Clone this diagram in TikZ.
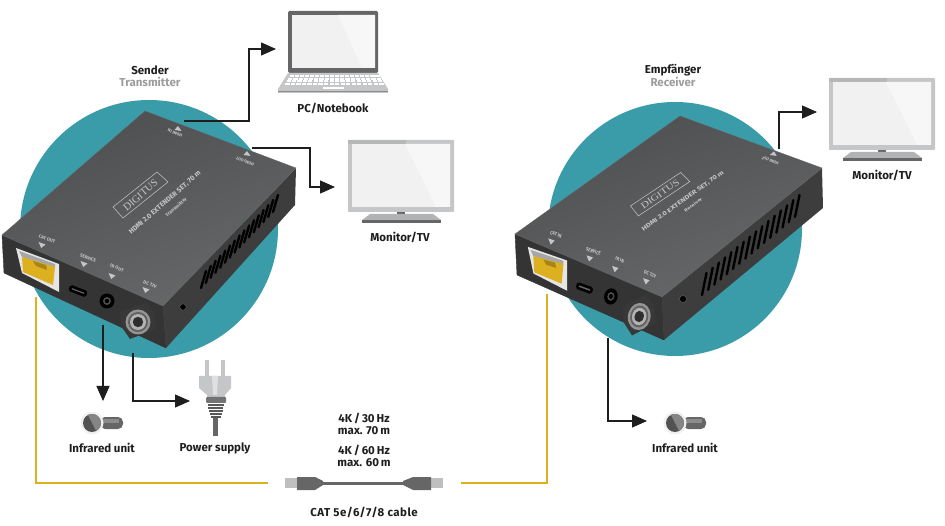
\documentclass[tikz,border=0pt]{standalone}
\usepackage{fontspec}
\setmainfont{Fira Sans}
\newfontfamily\logofont{Liberation Serif}
\usetikzlibrary{positioning,arrows.meta,calc}
\definecolor{teal}{HTML}{3A9BA9}
\definecolor{cableyellow}{HTML}{DDB020}
\definecolor{ink}{HTML}{1E1E1E}
\definecolor{softgrey}{HTML}{9C9C9C}
\definecolor{lidgrey}{HTML}{666666}
\definecolor{panelgrey}{HTML}{C4C6C7}
\definecolor{screenwhite}{HTML}{F1F1F1}
\definecolor{topface}{HTML}{525354}
\definecolor{frontface}{HTML}{343434}
\definecolor{silk}{HTML}{C6C6C6}
\tikzset{caption/.style={font=\bfseries\fontsize{11.5}{12}\selectfont,text=ink,inner sep=0pt},
         subcaption/.style={caption,text=softgrey},
         silkfront/.style={font=\bfseries\fontsize{4.6}{5}\selectfont,text=silk,inner sep=0pt,rotate=-21,transform shape},
         silktop/.style={font=\bfseries\fontsize{4.2}{5}\selectfont,text=silk,inner sep=0pt,rotate=159,transform shape},
         silkname/.style={font=\bfseries\fontsize{7}{8}\selectfont,text=silk,inner sep=0pt,rotate=41,transform shape},
         arr/.style={-{Stealth[length=15pt,width=13pt,inset=0pt]},ink,line width=1.1pt},
         yellowcable/.style={cableyellow,line width=2.4pt},
         slot/.style={black,line width=2.4pt,line cap=round}}

% case: left, back, right, front corner, front foot, right foot, left foot
\newcommand{\extenderbody}[7]{
 \path[fill=frontface,draw=frontface] #1 -- #4 -- #5 -- #7 -- cycle;
 \path[fill=black!76] #4 -- #3 -- #6 -- #5 -- cycle;
 \path[shade,left color=topface!95!black,right color=topface!88!white,shading angle=20,draw=black!60,line width=.3pt] #1 -- #2 -- #3 -- #4 -- cycle;
}
% vent slots: first foot, step, slot vector
\newcommand{\extenderslots}[6]{
 \foreach \i in {0,...,15}
   \draw[slot] ({#1+#3*\i},{#2+#4*\i}) -- ++(#5,#6);
}
% front panel: prefix, CAT label, IR label
\newcommand{\extenderfront}[3]{
 \fill[black!10] (16,248) -- (59,264) -- (59,292) -- (22,273) -- cycle;
 \fill[black!35] (19,251) -- (55,264) -- (55,268) -- (22,257) -- cycle;
 \fill[cableyellow] (22,257) -- (55,267) -- (53,285) -- (23,272) -- cycle;
 \fill[cableyellow!75!black] (33,261) -- (46,265) -- (47,270) -- (36,266) -- cycle;
 \draw[black,line width=2.6pt,rotate around={-21:(78,291)},rounded corners=1pt,fill=black!60] (70,289) rectangle (86,293);
 \fill[black] (107,301) circle (7.5);
 \fill[black!70] (107,301) circle (4);
 \fill[black] (107,301) circle (2.2);
 \fill[black!78,rotate around={20:(138,320)}] (124,306) -- (151,306) -- (156,320) -- (151,335) -- (124,335) -- (120,320) -- cycle;
 \fill[black!42] (138,322) circle (12.5);
 \fill[black!62] (138,322) circle (10);
 \fill[black!30] (138,322) circle (8);
 \fill[black!82] (138,322) circle (5.2);
 \node[silkfront] (#1cat) at (47,239) {#2};
 \node[silkfront] (#1svc) at (88,258) {SERVICE};
 \node[silkfront] (#1irl) at (117,268) {#3};
 \node[silkfront] (#1dcl) at (150,284) {DC 12V};
 \foreach \x/\y in {42/244,84/263,112/275,146/289}
   \fill[silk] ({\x-3.5},{\y-2}) -- ({\x+3.5},{\y+.5}) -- ({\x-.8},{\y+4}) -- cycle;
}
% top print: prefix, model line
\newcommand{\extendertop}[2]{
 \fill[silk] (250.5,156) -- (243.5,155) -- (247,151) -- cycle;
 \node[silktop] (#1out) at (245,161) {HDMI OUT};
 \draw[silk,line width=.5pt] (113,207) -- (157,172) -- (168,182) -- (123,218) -- cycle;
 \node[silkname,font=\logofont\fontsize{10.5}{11}\selectfont] (#1logo) at (140.5,195) {DIGITUS};
 \node[silkname] (#1title) at (165,203) {HDMI 2.0 EXTENDER SET, 70 m};
 \node[silkname,font=\bfseries\fontsize{5}{6}\selectfont] (#1model) at (176,207) {#2};
}

% monitor icon
\newcommand{\monitoricon}{
 \fill[panelgrey,rounded corners=.8pt] (348,140) rectangle (454,212);
 \fill[panelgrey!85!lidgrey] (348,140) rectangle (406,144);
 \fill[screenwhite] (352,144) rectangle (450,207);
 \fill[white!40!screenwhite] (405,144) -- (450,144) -- (450,207) -- (436,207) -- cycle;
 \fill[lidgrey] (397,212) rectangle (405,217);
 \fill[panelgrey!80!lidgrey] (362,220) -- (370,214) -- (433,214) -- (441,220) -- cycle;
 \fill[lidgrey] (362,220) rectangle (441,223);
}

% infrared receiver icon
\newcommand{\irunit}{
 \fill[black!60,rounded corners=5pt] (100,417) rectangle (123,429);
 \fill[black!45] (100,418.5) rectangle (119,422.5);
 \fill[black!6] (92,423) circle (11.5);
 \fill[black!68] (92,423) circle (9);
 \fill[black!48] (88,414.9) -- (96,431) arc (-63:116:9pt) -- cycle;
}

\begin{document}
\begin{tikzpicture}[x=1pt,y=-1pt]
 \useasboundingbox (0,0) rectangle (945,526);
 \coordinate (txc) at (149,229);
 \coordinate (rxc) at (675,229);
 \fill[teal] (txc) circle (129);
 \fill[teal] (rxc) circle (127);

 % sender
 \extenderbody{(2,235)}{(145,111)}{(296,168)}{(163,306)}{(166,348)}{(295,205)}{(4,273)}
 \extenderslots{201}{288}{4.8}{-5.07}{5}{-17}
 \extenderfront{tx}{CAT OUT}{IR OUT}
 \draw[black!60,fill=black] (183,307) circle (3.2);
 \extendertop{tx}{Transmitter}
 \node[silktop] (txin) at (175,133) {HDMI IN};
 \fill[silk] (181.5,131) -- (174.5,130) -- (178,126) -- cycle;

 % receiver
 \extenderbody{(515,234)}{(680,116)}{(822,168)}{(662,297)}{(664,340)}{(823,208)}{(517,275)}
 \extenderslots{702}{295}{6.2}{-5.2}{4.5}{-22}
 \draw[black!60,fill=black] (683,299) circle (3.5);
 \begin{scope}[cm={.9103,.0865,-.0047,1.0835,(512.08,-20.45)}]
  \extenderfront{rx}{CAT IN}{IR IN}
 \end{scope}
 \begin{scope}[cm={.9942,.0188,.1841,.93,(556.27,15.49)}]
  \extendertop{rx}{Receiver}
 \end{scope}

 % laptop
 \fill[lidgrey,rounded corners=1.5pt] (288,11) rectangle (378,73);
 \fill[screenwhite] (292,15) rectangle (375,68);
 \fill[white!40!screenwhite] (338,15) -- (375,15) -- (375,68) -- (362,68) -- cycle;
 \fill[panelgrey] (288,73) -- (378,73) -- (388,89) -- (388,93) -- (278,93) -- (278,89) -- cycle;
 \foreach \r in {0,...,3}
   \foreach \k in {0,...,17}
     \fill[white] ({289.5-1.4*\r+\k*(5.05+.16*\r)},{75.5+2.5*\r}) rectangle ++(4.2,1.8);
 \fill[white] (323,87) rectangle (344,89.3);
 \fill[black!45] (278,91) rectangle (388,91.6);

 \monitoricon
 \begin{scope}[shift={(481,-62)}]
  \monitoricon
 \end{scope}

 \irunit
 \begin{scope}[shift={(583,0)}]
  \irunit
 \end{scope}

 % power plug
 \fill[panelgrey] (205,360) rectangle (209,377);
 \fill[panelgrey] (221,360) rectangle (225,377);
 \fill[panelgrey] (199,376) -- (231,376) -- (231,388) -- (225,395) -- (225,400) -- (207,400) -- (207,395) -- (199,388) -- cycle;
 \fill[black!12] (212,376) -- (218,376) -- (217,395) -- (213,395) -- cycle;
 \fill[lidgrey] (213,418) rectangle (218,436);
 \fill[black!55,rounded corners=1pt] (206,397) rectangle (226,403);
 \foreach \y/\w in {404/8,407/7.5,410/7,413/6,416/5}
   \fill[black!65] ({215.5-\w},\y) rectangle ({215.5+\w},{\y+2});

 % network cable
 \coordinate (plugl) at (268,483);
 \coordinate (plugr) at (461,483);
 \fill[lidgrey] (323,481.5) rectangle (403,484.8);
 \fill[black!25] (285,478) rectangle (298,488);
 \fill[black!25] (430,478) rectangle (443,488);
 \fill[lidgrey] (297,477) -- (315,477) -- (323,481) -- (323,485) -- (315,490) -- (297,490) -- cycle;
 \fill[lidgrey] (431,477) -- (413,477) -- (403,481) -- (403,485) -- (413,490) -- (431,490) -- cycle;

 % connector end points
 \coordinate (txhdmi) at (184,121);
 \coordinate (txbend) at (249,49);
 \coordinate (laptop) at (276,49);
 \coordinate (txmon) at (252,148);
 \coordinate (txbend2) at (310,187);
 \coordinate (monitor) at (335,187);
 \coordinate (txir) at (103,325);
 \coordinate (irtip) at (103,401);
 \coordinate (txdc) at (133,353);
 \coordinate (plug) at (190,401);
 \coordinate (rxmon) at (779,149);
 \coordinate (monitor2) at (817,112);
 \coordinate (rxir) at (608,338);
 \coordinate (rxirtip) at (647,421);
 \coordinate (txcat) at (36,297);
 \coordinate (rxcat) at (547,294);

 \draw[arr] (txhdmi) -| (txbend) -- (laptop);
 \draw[arr] (txmon) -| (txbend2) -- (monitor);
 \draw[arr] (txir) -- (irtip);
 \draw[arr] (txdc) |- (plug);
 \draw[arr] (rxmon) |- (monitor2);
 \draw[arr] (rxir) |- (rxirtip);
 \draw[yellowcable] (txcat) |- (plugl);
 \draw[yellowcable] (rxcat) |- (plugr);

 % captions
 \node[caption] (sender) at (150,70) {Sender};
 \node[subcaption,below=2.5pt of sender] (sendersub) {Transmitter};
 \node[caption] (empf) at (673,70) {Empfänger};
 \node[subcaption,below=.5pt of empf] (empfsub) {Receiver};
 \node[caption] (lapname) at (333,108) {PC/Notebook};
 \node[caption] (monname) at (400,237) {Monitor/TV};
 \node[caption] (monname2) at (882,175) {Monitor/TV};
 \node[caption] (irname) at (102,448) {Infrared unit};
 \node[caption] (irname2) at (685,448) {Infrared unit};
 \node[caption] (plugname) at (215,448) {Power supply};
 \node[caption,align=center] (spec1) at (364,424) {4K\,/\,30\,Hz\\max. 70\,m};
 \node[caption,align=center] (spec2) at (364,456) {4K\,/\,60\,Hz\\max. 60\,m};
 \node[caption,font=\bfseries\fontsize{11.5}{12}\selectfont\addfontfeatures{LetterSpace=4}] (cablename) at (364,512) {CAT 5e/6/7/8 cable};
\end{tikzpicture}
\end{document}
